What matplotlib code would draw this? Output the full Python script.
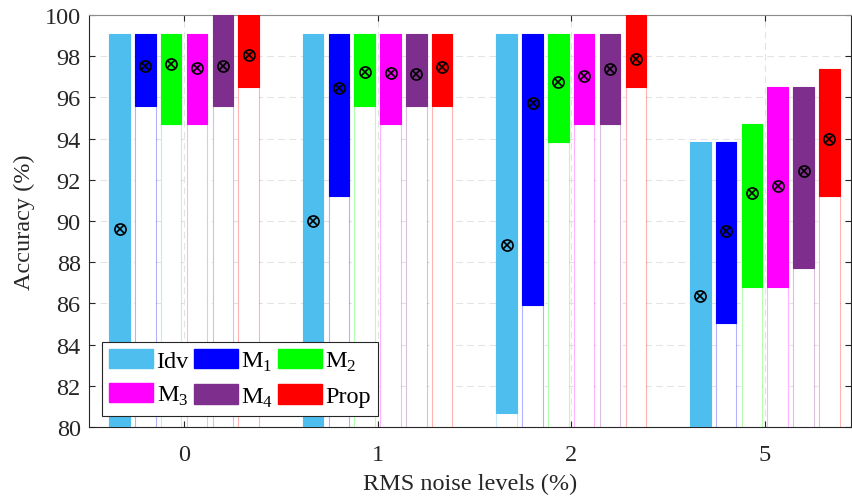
import numpy as np
import matplotlib.pyplot as plt
from matplotlib.patches import Patch

plt.rcParams['font.family'] = ['Liberation Serif', 'DejaVu Serif']
plt.rcParams['mathtext.fontset'] = 'custom'
plt.rcParams['mathtext.rm'] = 'Liberation Serif'

noise_levels = ['0', '1', '2', '5']
methods = ['Idv', 'M$_{\\mathrm{1}}$', 'M$_{\\mathrm{2}}$', 'M$_{\\mathrm{3}}$', 'M$_{\\mathrm{4}}$', 'Prop']
colors = ['#4DBEEE', '#0000FF', '#00FF00', '#FF00FF', '#7E2F8E', '#FF0000']

# accuracy ranges per method (rows) and noise level (columns)
acc_max = [
    [99.1, 99.1, 99.1, 93.85],   # Idv
    [99.1, 99.1, 99.1, 93.85],   # M1
    [99.1, 99.1, 99.1, 94.72],   # M2
    [99.1, 99.1, 99.1, 96.49],   # M3
    [100.0, 99.1, 99.1, 96.49],  # M4
    [100.0, 99.1, 100.0, 97.36], # Prop
]
acc_min = [
    [78.0, 78.0, 80.66, 79.0],
    [95.6, 91.2, 85.94, 85.06],
    [94.72, 95.6, 93.85, 86.81],
    [94.72, 94.72, 94.72, 86.81],
    [95.6, 95.6, 94.72, 87.7],
    [96.5, 95.6, 96.5, 91.21],
]
acc_mean = [
    [89.6, 90.0, 88.85, 86.36],
    [97.54, 96.48, 95.74, 89.51],
    [97.6, 97.25, 96.73, 91.36],
    [97.43, 97.2, 97.05, 91.68],
    [97.54, 97.15, 97.38, 92.44],
    [98.07, 97.5, 97.86, 93.98],
]

fig = plt.figure(figsize=(8.52, 5.02), dpi=100)
ax = fig.add_axes([89 / 852, 74 / 502, 762 / 852, 412 / 502])

x = np.arange(1, len(noise_levels) + 1)
step = 0.1333
width = 0.106

for i in range(len(methods)):
    xi = x + (i - 2.5) * step
    hi = np.array(acc_max[i])
    lo = np.array(acc_min[i])
    # white full-height bar with faint coloured sides
    ax.bar(xi, hi, width, color='white', linewidth=0, zorder=2)
    for xx, h in zip(xi, hi):
        for side in (-1, 1):
            ax.plot([xx + side * width / 2] * 2, [0, h], color=colors[i],
                    alpha=0.3, lw=0.8, zorder=3)
    ax.bar(xi, hi - lo, width, bottom=lo, color=colors[i], edgecolor=colors[i],
           linewidth=0.8, zorder=4)
    ax.plot(xi, acc_mean[i], 'o', ms=8, mfc='none', mec='k', mew=1.2, zorder=5)
    ax.plot(xi, acc_mean[i], 'x', ms=5.5, mec='k', mew=1.2, zorder=5)

ax.set_xlim(0.509, 4.445)
ax.set_ylim(80, 100)
ax.set_xticks(x)
ax.set_xticklabels(noise_levels)
ax.set_yticks(np.arange(80, 101, 2))
ax.tick_params(direction='in', length=4, width=0.8, labelsize=17.5, colors='#262626',
               top=True, right=True, pad=6)
ax.tick_params(axis='x', pad=12)
ax.grid(True, linestyle=(0, (6, 4)), color='#E3E3E3', linewidth=0.8)
ax.set_axisbelow(True)
for s in ax.spines.values():
    s.set_color('#262626')
    s.set_linewidth(0.8)
ax.spines['top'].set_color('#8C8C8C')

ax.set_ylabel('Accuracy (%)', fontsize=17.5, color='#262626', labelpad=7)
ax.set_xlabel('RMS noise levels (%)', fontsize=17.5, color='#262626', labelpad=6)

# legend filled row by row (3 columns, 2 rows)
order = [0, 3, 1, 4, 2, 5]
handles = [Patch(facecolor=colors[k], edgecolor=colors[k]) for k in order]
labels = [methods[k] for k in order]
leg = ax.legend(handles, labels, loc='lower left', ncol=3,
                bbox_to_anchor=(0.017, 0.027), borderaxespad=0, fontsize=17.5,
                handlelength=1.8, handleheight=0.85, handletextpad=0.15,
                columnspacing=0.2, labelspacing=0.45, borderpad=0.3,
                fancybox=False, framealpha=1, edgecolor='#262626')
leg.get_frame().set_linewidth(0.8)
leg.set_zorder(10)

fig.savefig('out.png', dpi=100)
